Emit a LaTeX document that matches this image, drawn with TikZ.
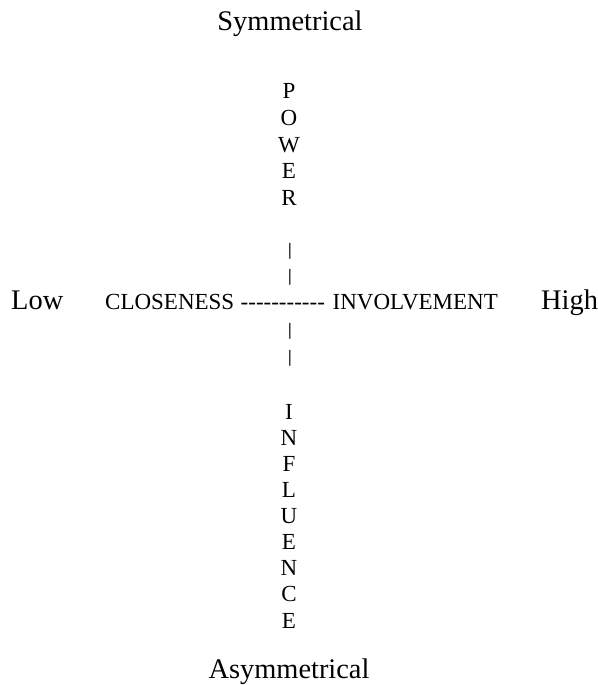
\documentclass[tikz,border=0pt]{standalone}
\usepackage{fontspec}
\usepackage{graphicx}
\setmainfont{Liberation Serif}
\usetikzlibrary{positioning}

% plain hyphens, kept apart so they do not join into dashes
\newcommand\hyph{\mbox{-}}
\newcommand\shortbar{\scalebox{1}[0.76]{|}}

\begin{document}
\begin{tikzpicture}[x=1pt,y=-1pt,
 pole/.style={font=\fontsize{28.4}{32}\selectfont,inner sep=0pt,anchor=base},
 word/.style={font=\fontsize{23}{26}\selectfont,inner sep=0pt,anchor=base},
 bar/.style={word,anchor=south}]
\useasboundingbox (0,0) rectangle (597,685);
% ends of the vertical axis
\node[pole] (sym) at (290,31) {Symmetrical};
\node[pole] (asym) at (289,678) {Asymmetrical};
% vertical axis, one letter per line
\foreach \ch [count=\i] in {P,O,W,E,R}
  \node[word] (pow\i) at (289,{99+(\i-1)*26.5}) {\ch};
\foreach \ch [count=\i] in {I,N,F,L,U,E,N,C,E}
  \node[word] (inf\i) at (289,{419+(\i-1)*26.125}) {\ch};
\node[bar] (bar1) at (290,259) {\shortbar};
\node[bar] (bar2) at (290,285) {\shortbar};
\node[bar] (bar3) at (290,339) {\shortbar};
\node[bar] (bar4) at (290,366) {\shortbar};
% horizontal axis
\node[pole,anchor=base west] (low) at (11,309) {Low};
\node[word,anchor=base west] (close) at (105,309) {CLOSENESS};
\node[word,base right=6pt of close] (dash)
  {\hyph\hyph\hyph\hyph\hyph\hyph\hyph\hyph\hyph\hyph\hyph};
\node[word,base right=7.3pt of dash] (inv) {INVOLVEMENT};
\node[pole,anchor=base west] (high) at (541,309) {High};
\end{tikzpicture}
\end{document}
